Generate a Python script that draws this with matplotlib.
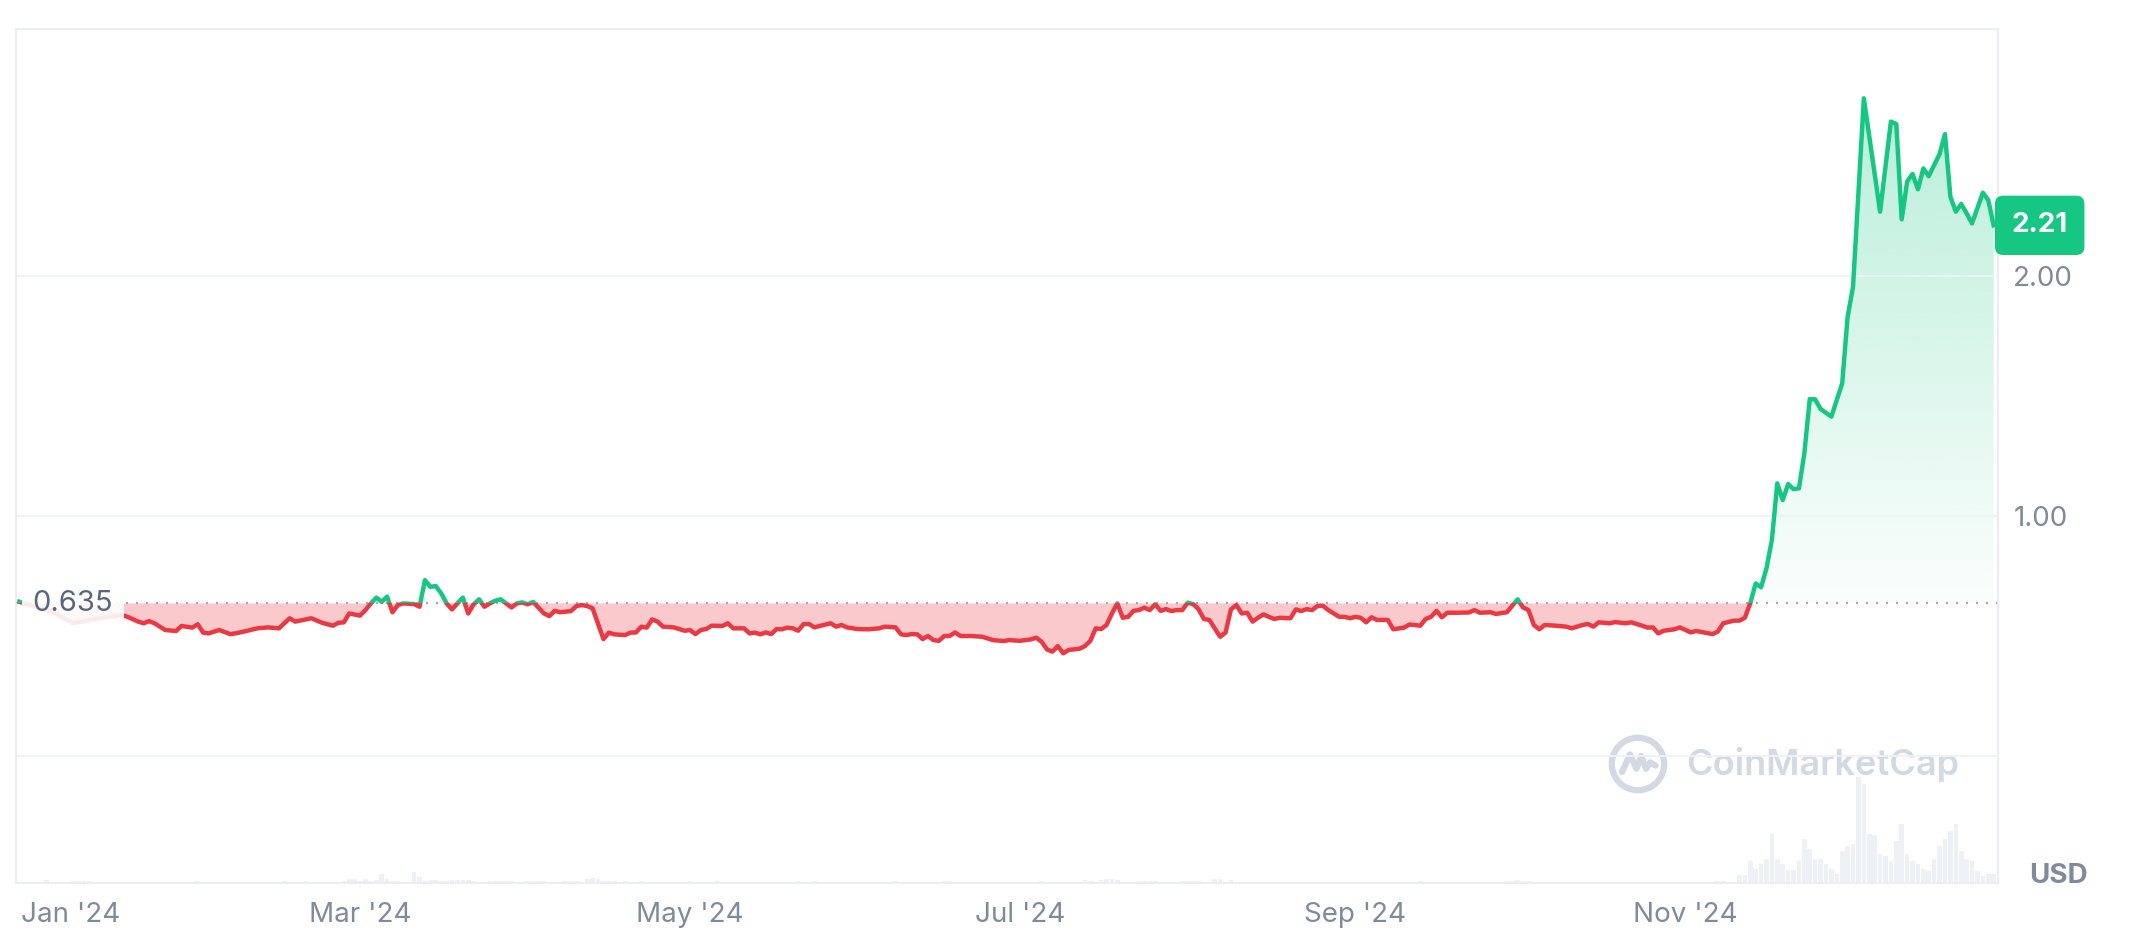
import numpy as np
import matplotlib
matplotlib.use("Agg")
import matplotlib.pyplot as plt
from matplotlib.colors import to_rgb
from matplotlib.patches import Rectangle, Circle
from matplotlib.transforms import ScaledTranslation

plt.rcParams['font.family'] = ['Inter', 'DejaVu Sans']

# ---------------- DATA ----------------
# days are counted from 1 Jan 2024, prices in USD
base_price = 0.635
last_label = "2.21"

day = [
    -3, 0, 3, 7, 11, 14, 16, 17, 19, 20,
    21, 22, 24, 26, 27, 29, 30, 31, 32, 34,
    36, 37, 39, 41, 43, 45, 47, 48, 51, 53,
    55, 56, 57, 58, 60, 61, 62, 63, 64, 65,
    66, 67, 68, 70, 71, 72, 73, 74, 75, 76,
    77, 78, 79, 80, 81, 82, 83, 84, 85, 86,
    88, 89, 90, 91, 92, 94, 95, 96, 97, 99,
    100, 101, 102, 103, 105, 106, 107, 109, 110, 111,
    112, 113, 114, 115, 116, 118, 120, 121, 122, 123,
    124, 125, 127, 128, 129, 131, 132, 133, 134, 135,
    136, 137, 138, 139, 140, 141, 142, 143, 144, 145,
    147, 148, 149, 150, 152, 154, 156, 157, 159, 160,
    161, 162, 163, 164, 165, 166, 167, 168, 169, 170,
    171, 173, 175, 177, 179, 180, 182, 184, 185, 186,
    187, 188, 189, 190, 191, 193, 194, 195, 196, 197,
    198, 199, 200, 201, 202, 203, 204, 205, 206, 207,
    208, 209, 210, 211, 212, 213, 214, 215, 216, 217,
    219, 220, 221, 222, 223, 224, 225, 226, 227, 228,
    229, 230, 232, 233, 234, 235, 236, 237, 238, 239,
    241, 242, 243, 244, 245, 246, 247, 248, 250, 251,
    253, 254, 256, 257, 258, 259, 260, 261, 263, 265,
    266, 267, 269, 270, 272, 273, 274, 275, 276, 277,
    278, 279, 281, 283, 284, 286, 287, 288, 289, 291,
    292, 294, 295, 297, 298, 299, 300, 301, 303, 304,
    306, 307, 310, 311, 312, 314, 315, 316, 317, 318,
    319, 320, 321, 322, 323, 324, 325, 326, 327, 328,
    329, 330, 332, 334, 335, 336, 338, 341, 343, 344,
    345, 346, 347, 348, 349, 350, 352, 353, 354, 355,
    356, 357, 358, 360, 361, 362,
]
price = [
    0.642, 0.621, 0.600, 0.552, 0.570, 0.580, 0.586, 0.579, 0.559, 0.552,
    0.561, 0.552, 0.524, 0.520, 0.541, 0.534, 0.548, 0.513, 0.510, 0.524,
    0.507, 0.510, 0.520, 0.531, 0.535, 0.531, 0.573, 0.559, 0.573, 0.554,
    0.542, 0.554, 0.556, 0.593, 0.584, 0.607, 0.635, 0.659, 0.642, 0.663,
    0.598, 0.628, 0.635, 0.632, 0.621, 0.732, 0.704, 0.707, 0.677, 0.635,
    0.610, 0.635, 0.659, 0.593, 0.631, 0.652, 0.621, 0.635, 0.646, 0.652,
    0.618, 0.635, 0.639, 0.631, 0.641, 0.593, 0.582, 0.604, 0.598, 0.603,
    0.624, 0.628, 0.624, 0.614, 0.486, 0.513, 0.506, 0.503, 0.513, 0.514,
    0.538, 0.534, 0.568, 0.559, 0.538, 0.535, 0.521, 0.524, 0.507, 0.524,
    0.528, 0.542, 0.541, 0.552, 0.531, 0.531, 0.510, 0.513, 0.506, 0.514,
    0.507, 0.528, 0.527, 0.534, 0.531, 0.521, 0.549, 0.549, 0.535, 0.541,
    0.552, 0.538, 0.545, 0.535, 0.528, 0.527, 0.531, 0.538, 0.535, 0.506,
    0.503, 0.507, 0.506, 0.486, 0.499, 0.482, 0.479, 0.499, 0.499, 0.514,
    0.499, 0.499, 0.496, 0.482, 0.478, 0.482, 0.479, 0.485, 0.492, 0.475,
    0.443, 0.434, 0.457, 0.427, 0.441, 0.446, 0.457, 0.479, 0.531, 0.528,
    0.545, 0.593, 0.635, 0.575, 0.579, 0.604, 0.607, 0.617, 0.607, 0.631,
    0.604, 0.611, 0.603, 0.607, 0.607, 0.638, 0.632, 0.611, 0.570, 0.566,
    0.496, 0.513, 0.610, 0.628, 0.593, 0.596, 0.559, 0.575, 0.589, 0.579,
    0.570, 0.575, 0.573, 0.610, 0.603, 0.611, 0.607, 0.624, 0.625, 0.607,
    0.579, 0.579, 0.573, 0.579, 0.575, 0.556, 0.577, 0.566, 0.566, 0.527,
    0.534, 0.547, 0.542, 0.570, 0.579, 0.604, 0.577, 0.596, 0.596, 0.597,
    0.607, 0.596, 0.598, 0.591, 0.598, 0.625, 0.652, 0.618, 0.607, 0.545,
    0.527, 0.545, 0.542, 0.538, 0.531, 0.545, 0.549, 0.538, 0.556, 0.552,
    0.557, 0.552, 0.556, 0.542, 0.534, 0.535, 0.510, 0.521, 0.527, 0.535,
    0.514, 0.520, 0.507, 0.517, 0.552, 0.563, 0.563, 0.575, 0.635, 0.718,
    0.702, 0.781, 0.899, 1.135, 1.065, 1.132, 1.111, 1.114, 1.260, 1.486,
    1.485, 1.445, 1.413, 1.552, 1.829, 1.954, 2.739, 2.267, 2.642, 2.632,
    2.235, 2.392, 2.424, 2.360, 2.447, 2.415, 2.507, 2.590, 2.329, 2.267,
    2.299, 2.260, 2.218, 2.346, 2.315, 2.210,
]

# daily volume (billion USD), only the days where a bar is visible
vol_day = [
    2, 7, 8, 9, 10, 30, 46, 50, 57, 58,
    59, 60, 61, 62, 63, 64, 65, 66, 67, 70,
    71, 72, 73, 74, 75, 76, 77, 78, 79, 80,
    81, 84, 85, 86, 87, 88, 91, 92, 93, 94,
    98, 99, 100, 102, 103, 104, 105, 106, 107, 109,
    112, 121, 126, 141, 144, 159, 168, 169, 186, 194,
    195, 197, 198, 199, 200, 204, 205, 206, 207, 212,
    213, 214, 215, 218, 219, 221, 256, 272, 273, 274,
    275, 276, 311, 312, 315, 316, 317, 318, 319, 320,
    321, 322, 323, 324, 325, 326, 327, 328, 329, 330,
    331, 332, 333, 334, 335, 336, 337, 338, 339, 340,
    341, 342, 343, 344, 345, 346, 347, 348, 349, 350,
    351, 352, 353, 354, 355, 356, 357, 358, 359, 360,
    361, 362,
]
vol = [
    0.9, 0.5, 0.5, 0.5, 0.5, 0.5, 0.5, 0.5, 0.5, 1.2,
    1.2, 0.6, 1.2, 0.6, 1.0, 2.6, 1.2, 0.6, 0.5, 3.4,
    1.9, 0.5, 1.0, 1.0, 0.6, 0.5, 1.0, 1.0, 1.0, 1.0,
    0.5, 0.5, 0.5, 0.5, 0.5, 0.5, 0.5, 0.5, 0.5, 0.5,
    0.5, 0.5, 0.5, 1.2, 1.6, 1.2, 0.6, 0.5, 0.5, 0.5,
    0.5, 0.5, 0.5, 0.5, 0.5, 0.5, 0.5, 0.5, 0.5, 0.9,
    0.6, 0.75, 1.05, 1.05, 0.75, 0.45, 0.45, 0.45, 0.45, 0.45,
    0.45, 0.45, 0.45, 1.2, 1.2, 0.75, 0.45, 0.45, 0.6, 0.9,
    0.6, 0.45, 0.5, 0.5, 2.3, 2.3, 6.6, 4.3, 5.8, 7.3,
    14.8, 7.3, 5.8, 3.8, 3.8, 6.6, 13.3, 10.3, 7.3, 7.3,
    5.8, 4.3, 2.8, 9.6, 11.1, 11.8, 31.8, 29.8, 14.8, 14.3,
    8.8, 8.1, 6.6, 12.6, 17.8, 8.8, 6.6, 5.8, 4.3, 3.6,
    7.3, 11.1, 13.3, 15.6, 17.8, 9.6, 7.3, 6.6, 3.6, 2.1,
    2.8, 2.8,
]

month_ticks = [0, 60, 121, 182, 244, 305]
month_labels = ["Jan '24", "Mar '24", "May '24", "Jul '24", "Sep '24", "Nov '24"]
price_ticks = [0, 1, 2]
price_tick_labels = ["", "1.00", "2.00"]

# ---------------- COLOURS ----------------
green = '#16c784'
red = '#ea3943'
grey_text = '#808a9d'
grid_col = '#eff2f5'

x = np.array(day, dtype=float)
y = np.array(price)

# ---------------- FIGURE ----------------
fig = plt.figure(figsize=(21.53, 9.38), dpi=100)
ax = fig.add_axes([16 / 2153, 55 / 938, 1982 / 2153, 854 / 938])

# volume bars on a second axis, kept at the bottom
ax_v = ax.twinx()
ax_v.bar(vol_day, vol, width=0.85, color='#edf0f4', zorder=1)
ax_v.set_ylim(0, 256)
ax_v.set_yticks([])
ax_v.set_zorder(0)
ax.set_zorder(1)
ax.patch.set_visible(False)
for s in ax_v.spines.values():
    s.set_visible(False)

# invisible area between the price and the opening price, used as clip shape
area = ax.fill_between(x, y, base_price, color='none', lw=0)
clip = area.get_paths()[0]

# green gradient above the opening price
grad = np.zeros((256, 1, 4))
grad[..., :3] = to_rgb(green)
grad[..., 3] = np.linspace(0.02, 0.30, 256)[:, None]
img = ax.imshow(grad, extent=[x[0], x[-1], base_price, y.max()],
                origin='lower', aspect='auto', zorder=1)
img.set_clip_path(clip, ax.transData)

# pink area below the opening price
ax.fill_between(x, y, base_price, where=y < base_price, interpolate=True,
                color=red, alpha=0.27, lw=0, zorder=1)

# dotted line at the opening price
ax.axhline(base_price, color='#a3aab7', lw=1.6, ls=(0, (0.9, 3.6)), zorder=2)

# price line: green above the opening price, red below
above = Rectangle((x[0] - 10, base_price), 400, 10, transform=ax.transData)
below = Rectangle((x[0] - 10, base_price - 10), 400, 10, transform=ax.transData)
ln_up, = ax.plot(x, y, color=green, lw=3.2, zorder=3, solid_joinstyle='round')
ln_up.set_clip_path(above)
ln_dn, = ax.plot(x, y, color=red, lw=3.2, zorder=3, solid_joinstyle='round')
ln_dn.set_clip_path(below)

# ---------------- AXES ----------------
ax.set_xlim(-3.6, 362.8)
ax.set_ylim(-0.530, 3.028)

ax.yaxis.tick_right()
ax.set_yticks(price_ticks)
ax.set_yticklabels(price_tick_labels)
ax.set_xticks(month_ticks)
ax.set_xticklabels(month_labels)
ax.tick_params(axis='both', length=0, labelsize=20, labelcolor=grey_text)
ax.tick_params(axis='x', pad=14)
ax.tick_params(axis='y', pad=11)

# first month label is pushed right so it stays inside the picture
jan = ax.get_xticklabels()[0]
jan.set_ha('left')
jan.set_transform(jan.get_transform() + ScaledTranslation(-0.14, 0, fig.dpi_scale_trans))

ax.grid(axis='y', color=grid_col, lw=1.3, zorder=0)
for s in ax.spines.values():
    s.set_color('#e9ecf0')
    s.set_linewidth(1.3)

# ---------------- LABELS ----------------
ax.annotate(f"{base_price:.3f}", xy=(0, base_price), xycoords=('axes fraction', 'data'),
            xytext=(12, 0), textcoords='offset points', ha='left', va='center',
            fontsize=21, color='#58667e', zorder=5,
            bbox=dict(boxstyle='square,pad=0.35', fc='white', ec='none', alpha=0.9))

ax.annotate(last_label, xy=(1, price[-1]), xycoords=('axes fraction', 'data'),
            xytext=(30, 0), textcoords='offset points', ha='center', va='center',
            fontsize=20, fontweight='bold', color='white', annotation_clip=False, zorder=6,
            bbox=dict(boxstyle='round,pad=0.6,rounding_size=0.3', fc=green, ec='none'))

fig.text(2058 / 2153, 1 - 876 / 938, "USD", ha='center', va='center',
         fontsize=20, fontweight='bold', color=grey_text)

# CoinMarketCap watermark
fig.text(1686 / 2153, 1 - 764 / 938, "CoinMarketCap", ha='left', va='center',
         fontsize=26, fontweight='semibold', color='#d2d9e3', zorder=0)
logo = fig.add_axes([1606 / 2153, 1 - 796 / 938, 64 / 2153, 64 / 938])
logo.set_xlim(-1, 1)
logo.set_ylim(-1, 1)
logo.axis('off')
logo.add_patch(Circle((0, 0), 0.82, fill=False, ec='#d2d9e3', lw=4.5))
logo.plot([-0.5, -0.25, -0.05, 0.1, 0.25, 0.38, 0.55],
          [-0.25, 0.3, -0.15, 0.25, -0.15, 0.05, -0.05],
          color='#d2d9e3', lw=4.5, solid_joinstyle='round', solid_capstyle='round')

fig.savefig('out.png', dpi=100)
